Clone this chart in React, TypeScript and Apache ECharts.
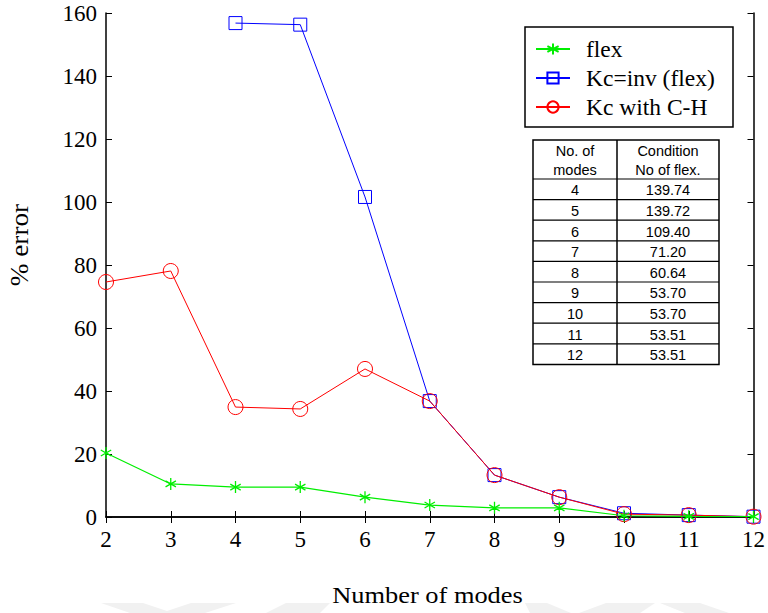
import React, { useEffect, useRef } from "react";
import * as echarts from "echarts";

const modes = [2, 3, 4, 5, 6, 7, 8, 9, 10, 11, 12];
const flexErr = [20.3, 10.5, 9.5, 9.5, 6.3, 3.8, 2.9, 2.9, 0.4, 0.2, 0.1];
const kcInvErr = [null, null, 156.8, 156.3, 101.6, 36.8, 13.3, 6.3, 1.2, 0.6, 0.1];
const kcChErr = [74.6, 78.1, 34.9, 34.3, 47.0, 36.8, 13.3, 6.3, 0.9, 0.6, 0.1];

const seriesNames = ["flex", "Kc=inv (flex)", "Kc with C-H"];

const tableHeader = [["No. of", "modes"], ["Condition", "No of flex."]];
const tableModes = ["4", "5", "6", "7", "8", "9", "10", "11", "12"];
const tableCond = ["139.74", "139.72", "109.40", "71.20", "60.64", "53.70", "53.70", "53.51", "53.51"];

const xTitle = "Number of modes";
const yTitle = "% error";

const SERIF = "'Liberation Serif', 'Times New Roman', serif";
const SANS = "'Liberation Sans', Arial, sans-serif";

function pairs(ys: (number | null)[]) {
  return modes.map((m, i) => [m, ys[i]]).filter((p) => p[1] !== null);
}

function buildTable() {
  const x0 = 533, x1 = 617, x2 = 719;
  const y0 = 140, yh = 179, rowH = 20.6;
  const els: any[] = [];
  const yEnd = yh + rowH * tableModes.length;
  const font = `14.5px ${SANS}`;
  els.push({ type: "rect", shape: { x: x0, y: y0, width: x2 - x0, height: yEnd - y0 }, style: { fill: "#fff", stroke: "#000", lineWidth: 1.5 }, z: 10 });
  els.push({ type: "line", shape: { x1: x1, y1: y0, x2: x1, y2: yEnd }, style: { stroke: "#000", lineWidth: 1.5 }, z: 11 });
  for (let i = 0; i < tableModes.length; i++) {
    const y = yh + rowH * i;
    els.push({ type: "line", shape: { x1: x0, y1: y, x2: x2, y2: y }, style: { stroke: "#000", lineWidth: 1.2 }, z: 11 });
    els.push({ type: "text", x: (x0 + x1) / 2, y: y + rowH / 2 + 1, style: { text: tableModes[i], font, fill: "#000", align: "center", verticalAlign: "middle" }, z: 12 });
    els.push({ type: "text", x: (x1 + x2) / 2, y: y + rowH / 2 + 1, style: { text: tableCond[i], font, fill: "#000", align: "center", verticalAlign: "middle" }, z: 12 });
  }
  const cx = [(x0 + x1) / 2, (x1 + x2) / 2];
  tableHeader.forEach((lines, c) => {
    lines.forEach((t, j) => {
      els.push({ type: "text", x: cx[c], y: 151 + j * 18.5, style: { text: t, font, fill: "#000", align: "center", verticalAlign: "middle" }, z: 12 });
    });
  });
  return els;
}

function buildWatermark() {
  const fill = "#f1f1f1";
  const polys = [
    [[101, 603], [143, 603], [167, 611], [191, 603], [236, 603], [205, 613], [130, 613]],
    [[286, 603], [330, 603], [320, 613], [266, 613]],
    [[525, 603], [547, 603], [571, 613], [530, 613]],
    [[606, 603], [655, 603], [640, 613], [579, 613]],
    [[660, 603], [700, 603], [729, 613], [685, 613]],
  ];
  return polys.map((p) => ({ type: "polygon", shape: { points: p }, style: { fill }, z: 0, silent: true }));
}

export default function App() {
  const ref = useRef<HTMLDivElement>(null);
  useEffect(() => {
    if (!ref.current) return;
    const chart = echarts.init(ref.current, undefined, { renderer: "svg" });
    const axisLine = { show: true, lineStyle: { color: "#000", width: 1.5 } };
    const tick = { show: true, inside: true, length: 6, lineStyle: { color: "#000", width: 1 } };
    const labelStyle = { color: "#000", fontSize: 23, fontFamily: SERIF };
    chart.setOption({
      animation: false,
      backgroundColor: "#fff",
      grid: { left: 106, right: 13, top: 13, bottom: 96, containLabel: false },
      xAxis: [
        {
          type: "value", min: 2, max: 12, interval: 1, position: "bottom",
          axisLine, axisTick: tick, splitLine: { show: false },
          axisLabel: { ...labelStyle, margin: 11 },
        },
        {
          type: "value", min: 2, max: 12, interval: 1, position: "top",
          axisLine, axisTick: tick, splitLine: { show: false }, axisLabel: { show: false },
        },
      ],
      yAxis: [
        {
          type: "value", min: 0, max: 160, interval: 20, position: "left",
          axisLine, axisTick: tick, splitLine: { show: false },
          axisLabel: { ...labelStyle, margin: 9 },
        },
        {
          type: "value", min: 0, max: 160, interval: 20, position: "right",
          axisLine, axisTick: tick, splitLine: { show: false }, axisLabel: { show: false },
        },
      ],
      legend: {
        left: 530, top: 32, orient: "vertical", itemWidth: 34, itemHeight: 14, itemGap: 5,
        data: seriesNames,
        textStyle: { color: "#000", fontSize: 23.5, fontFamily: SERIF, lineHeight: 24, padding: [0, 0, 0, 11] },
        z: 20,
      },
      graphic: [
        { type: "rect", shape: { x: 525, y: 27, width: 208, height: 100 }, style: { fill: "#fff", stroke: "#000", lineWidth: 1.5 }, z: 10 },
        ...buildTable(),
        ...buildWatermark(),
        { type: "text", x: 20, y: 245, rotation: Math.PI / 2, scaleX: 1.09, style: { text: yTitle, font: `25px ${SERIF}`, fill: "#000", align: "center", verticalAlign: "middle" }, z: 5 },
        { type: "text", x: 427.5, y: 595, scaleX: 1.1, style: { text: xTitle, font: `24px ${SERIF}`, fill: "#000", align: "center", verticalAlign: "middle" }, z: 5 },
      ],
      series: [
        {
          name: seriesNames[0], type: "line", data: pairs(flexErr), z: 4,
          symbol: "path://M0 -10L0 10M-8.66 -5L8.66 5M-8.66 5L8.66 -5", symbolSize: 12, symbolKeepAspect: true,
          lineStyle: { color: "#00ee00", width: 1.2 },
          itemStyle: { color: "#00ee00", borderColor: "#00ee00", borderWidth: 1.3 },
          emphasis: { disabled: true },
        },
        {
          name: seriesNames[1], type: "line", data: pairs(kcInvErr), z: 2,
          symbol: "rect", symbolSize: 13,
          lineStyle: { color: "#0000ff", width: 1 },
          itemStyle: { color: "rgba(0,0,0,0)", borderColor: "#0000ff", borderWidth: 1 },
          emphasis: { disabled: true },
        },
        {
          name: seriesNames[2], type: "line", data: pairs(kcChErr), z: 3,
          symbol: "circle", symbolSize: 15,
          lineStyle: { color: "#ff0000", width: 1 },
          itemStyle: { color: "rgba(0,0,0,0)", borderColor: "#ff0000", borderWidth: 1 },
          emphasis: { disabled: true },
        },
      ],
    });
    return () => chart.dispose();
  }, []);
  return <div ref={ref} style={{ width: 768, height: 613, position: "absolute", left: 0, top: 0 }} />;
}
